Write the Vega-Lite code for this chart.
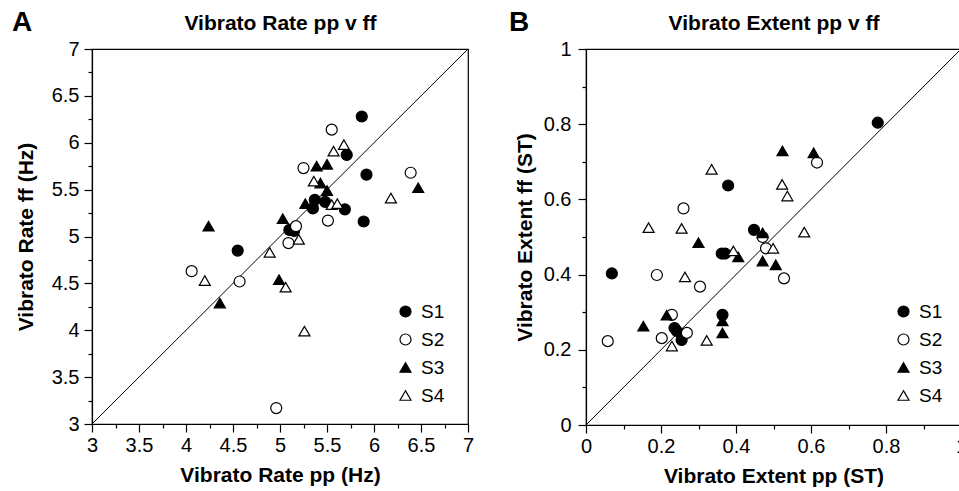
{
  "$schema": "https://vega.github.io/schema/vega-lite/v6.json",
  "padding": {"left": 11, "top": 8, "right": 0, "bottom": 0},
  "background": "white",
  "datasets": {
    "rate": [
      {"s": "S1", "pp": 5.87, "ff": 6.28}, {"s": "S1", "pp": 5.71, "ff": 5.87}, {"s": "S1", "pp": 5.92, "ff": 5.66},
      {"s": "S1", "pp": 5.37, "ff": 5.39}, {"s": "S1", "pp": 5.48, "ff": 5.37}, {"s": "S1", "pp": 5.35, "ff": 5.30},
      {"s": "S1", "pp": 5.69, "ff": 5.29}, {"s": "S1", "pp": 5.89, "ff": 5.16}, {"s": "S1", "pp": 5.10, "ff": 5.07},
      {"s": "S1", "pp": 5.15, "ff": 5.06}, {"s": "S1", "pp": 4.55, "ff": 4.85},
      {"s": "S2", "pp": 5.55, "ff": 6.14}, {"s": "S2", "pp": 5.25, "ff": 5.73}, {"s": "S2", "pp": 6.39, "ff": 5.68},
      {"s": "S2", "pp": 5.51, "ff": 5.17}, {"s": "S2", "pp": 5.17, "ff": 5.11}, {"s": "S2", "pp": 5.09, "ff": 4.93},
      {"s": "S2", "pp": 4.06, "ff": 4.63}, {"s": "S2", "pp": 4.57, "ff": 4.52}, {"s": "S2", "pp": 4.96, "ff": 3.17},
      {"s": "S3", "pp": 5.39, "ff": 5.75}, {"s": "S3", "pp": 5.50, "ff": 5.77}, {"s": "S3", "pp": 5.43, "ff": 5.57},
      {"s": "S3", "pp": 6.47, "ff": 5.52}, {"s": "S3", "pp": 5.50, "ff": 5.49}, {"s": "S3", "pp": 5.27, "ff": 5.35},
      {"s": "S3", "pp": 5.03, "ff": 5.19}, {"s": "S3", "pp": 4.24, "ff": 5.11}, {"s": "S3", "pp": 4.99, "ff": 4.54},
      {"s": "S3", "pp": 4.36, "ff": 4.29},
      {"s": "S4", "pp": 5.68, "ff": 5.98}, {"s": "S4", "pp": 5.57, "ff": 5.91}, {"s": "S4", "pp": 5.36, "ff": 5.59},
      {"s": "S4", "pp": 6.18, "ff": 5.41}, {"s": "S4", "pp": 5.55, "ff": 5.34}, {"s": "S4", "pp": 5.61, "ff": 5.35},
      {"s": "S4", "pp": 5.20, "ff": 4.97}, {"s": "S4", "pp": 4.89, "ff": 4.83}, {"s": "S4", "pp": 4.20, "ff": 4.53},
      {"s": "S4", "pp": 5.06, "ff": 4.46}, {"s": "S4", "pp": 5.26, "ff": 3.99}
    ],
    "extent": [
      {"s": "S1", "pp": 0.778, "ff": 0.804}, {"s": "S1", "pp": 0.379, "ff": 0.637}, {"s": "S1", "pp": 0.448, "ff": 0.519},
      {"s": "S1", "pp": 0.362, "ff": 0.456}, {"s": "S1", "pp": 0.371, "ff": 0.456}, {"s": "S1", "pp": 0.069, "ff": 0.403},
      {"s": "S1", "pp": 0.236, "ff": 0.258}, {"s": "S1", "pp": 0.242, "ff": 0.250}, {"s": "S1", "pp": 0.255, "ff": 0.226},
      {"s": "S1", "pp": 0.364, "ff": 0.293},
      {"s": "S2", "pp": 0.616, "ff": 0.698}, {"s": "S2", "pp": 0.260, "ff": 0.576}, {"s": "S2", "pp": 0.471, "ff": 0.500},
      {"s": "S2", "pp": 0.480, "ff": 0.470}, {"s": "S2", "pp": 0.189, "ff": 0.399}, {"s": "S2", "pp": 0.304, "ff": 0.368},
      {"s": "S2", "pp": 0.528, "ff": 0.390}, {"s": "S2", "pp": 0.229, "ff": 0.293}, {"s": "S2", "pp": 0.269, "ff": 0.245},
      {"s": "S2", "pp": 0.202, "ff": 0.231}, {"s": "S2", "pp": 0.058, "ff": 0.223},
      {"s": "S3", "pp": 0.524, "ff": 0.729}, {"s": "S3", "pp": 0.607, "ff": 0.724}, {"s": "S3", "pp": 0.471, "ff": 0.511},
      {"s": "S3", "pp": 0.300, "ff": 0.485}, {"s": "S3", "pp": 0.406, "ff": 0.447}, {"s": "S3", "pp": 0.471, "ff": 0.436},
      {"s": "S3", "pp": 0.506, "ff": 0.426}, {"s": "S3", "pp": 0.153, "ff": 0.263}, {"s": "S3", "pp": 0.215, "ff": 0.292},
      {"s": "S3", "pp": 0.364, "ff": 0.277}, {"s": "S3", "pp": 0.364, "ff": 0.245},
      {"s": "S4", "pp": 0.335, "ff": 0.680}, {"s": "S4", "pp": 0.523, "ff": 0.640}, {"s": "S4", "pp": 0.537, "ff": 0.609},
      {"s": "S4", "pp": 0.167, "ff": 0.525}, {"s": "S4", "pp": 0.255, "ff": 0.523}, {"s": "S4", "pp": 0.582, "ff": 0.513},
      {"s": "S4", "pp": 0.499, "ff": 0.470}, {"s": "S4", "pp": 0.393, "ff": 0.463}, {"s": "S4", "pp": 0.264, "ff": 0.394},
      {"s": "S4", "pp": 0.229, "ff": 0.210}, {"s": "S4", "pp": 0.322, "ff": 0.225}
    ],
    "diagA": [{"v": 3}, {"v": 7}],
    "diagB": [{"v": 0}, {"v": 1}]
  },
  "resolve": {
    "scale": {"shape": "independent", "fill": "independent", "stroke": "independent"},
    "legend": {"shape": "independent", "fill": "independent", "stroke": "independent"}
  },
  "hconcat": [
    {
      "title": {"text": "A", "orient": "left", "angle": 0, "anchor": "end", "align": "left", "baseline": "top", "frame": "bounds", "offset": -17, "dy": -3},
      "width": 376,
      "height": 375,
      "resolve": {"axis": {"x": "independent", "y": "independent"}},
      "layer": [
        {
          "data": {"name": "diagA"},
          "mark": {"type": "line", "color": "black", "strokeWidth": 1},
          "encoding": {
            "x": {"field": "v", "type": "quantitative", "scale": {"domain": [3, 7], "nice": false, "zero": false},
                  "axis": {"orient": "top", "title": "Vibrato Rate pp v ff", "labels": false, "ticks": false, "domain": true, "titlePadding": 16}},
            "y": {"field": "v", "type": "quantitative", "scale": {"domain": [3, 7], "nice": false, "zero": false}, "axis": null}
          }
        },
        {
          "data": {"name": "rate"},
          "mark": {"type": "point", "filled": true, "stroke": "black", "strokeWidth": 1.2, "opacity": 1, "size": 121},
          "encoding": {
            "x": {"field": "pp", "type": "quantitative", "scale": {"domain": [3, 7], "nice": false, "zero": false},
                  "axis": {"title": "Vibrato Rate pp (Hz)", "titlePadding": 9, "labelPadding": 3,
                           "values": [3, 3.25, 3.5, 3.75, 4, 4.25, 4.5, 4.75, 5, 5.25, 5.5, 5.75, 6, 6.25, 6.5, 6.75, 7],
                           "labelExpr": "datum.value % 0.5 === 0 ? '' + datum.value : ''",
                           "tickSize": {"condition": {"test": "datum.value % 0.5 === 0", "value": 8}, "value": 4}}},
            "y": {"field": "ff", "type": "quantitative", "scale": {"domain": [3, 7], "nice": false, "zero": false},
                  "axis": {"title": "Vibrato Rate ff (Hz)", "titlePadding": 15,
                           "values": [3, 3.25, 3.5, 3.75, 4, 4.25, 4.5, 4.75, 5, 5.25, 5.5, 5.75, 6, 6.25, 6.5, 6.75, 7],
                           "labelExpr": "datum.value % 0.5 === 0 ? '' + datum.value : ''",
                           "tickSize": {"condition": {"test": "datum.value % 0.5 === 0", "value": 8}, "value": 4}}},
            "shape": {"field": "s", "type": "nominal", "scale": {"domain": ["S1", "S2", "S3", "S4"], "range": ["circle", "circle", "triangle-up", "triangle-up"]},
                      "legend": {"title": null, "orient": "none", "legendX": 304, "legendY": 253}},
            "fill": {"field": "s", "type": "nominal", "scale": {"domain": ["S1", "S2", "S3", "S4"], "range": ["black", "white", "black", "white"]},
                     "legend": {"title": null, "orient": "none", "legendX": 304, "legendY": 253}},
            "stroke": {"field": "s", "type": "nominal", "scale": {"domain": ["S1", "S2", "S3", "S4"], "range": ["black", "black", "black", "black"]},
                       "legend": {"title": null, "orient": "none", "legendX": 304, "legendY": 253}}
          }
        }
      ]
    },
    {
      "title": {"text": "B", "orient": "left", "angle": 0, "anchor": "end", "align": "left", "baseline": "top", "frame": "bounds", "offset": -15, "dy": -3},
      "width": 375,
      "height": 376,
      "resolve": {"axis": {"x": "independent", "y": "independent"}},
      "layer": [
        {
          "data": {"name": "diagB"},
          "mark": {"type": "line", "color": "black", "strokeWidth": 1},
          "encoding": {
            "x": {"field": "v", "type": "quantitative", "scale": {"domain": [0, 1], "nice": false},
                  "axis": {"orient": "top", "title": "Vibrato Extent pp v ff", "labels": false, "ticks": false, "domain": true, "titlePadding": 16}},
            "y": {"field": "v", "type": "quantitative", "scale": {"domain": [0, 1], "nice": false}, "axis": null}
          }
        },
        {
          "data": {"name": "extent"},
          "mark": {"type": "point", "filled": true, "stroke": "black", "strokeWidth": 1.2, "opacity": 1, "size": 121},
          "encoding": {
            "x": {"field": "pp", "type": "quantitative", "scale": {"domain": [0, 1], "nice": false},
                  "axis": {"title": "Vibrato Extent pp (ST)", "titlePadding": 9, "labelPadding": 3,
                           "values": [0, 0.1, 0.2, 0.3, 0.4, 0.5, 0.6, 0.7, 0.8, 0.9, 1],
                           "labelExpr": "round(datum.value * 10) % 2 === 0 ? '' + datum.value : ''",
                           "tickSize": {"condition": {"test": "round(datum.value * 10) % 2 === 0", "value": 8}, "value": 4}}},
            "y": {"field": "ff", "type": "quantitative", "scale": {"domain": [0, 1], "nice": false},
                  "axis": {"title": "Vibrato Extent ff (ST)", "titlePadding": 8, "labelPadding": 7,
                           "values": [0, 0.1, 0.2, 0.3, 0.4, 0.5, 0.6, 0.7, 0.8, 0.9, 1],
                           "labelExpr": "round(datum.value * 10) % 2 === 0 ? '' + datum.value : ''",
                           "tickSize": {"condition": {"test": "round(datum.value * 10) % 2 === 0", "value": 8}, "value": 4}}},
            "shape": {"field": "s", "type": "nominal", "scale": {"domain": ["S1", "S2", "S3", "S4"], "range": ["circle", "circle", "triangle-up", "triangle-up"]},
                      "legend": {"title": null, "orient": "none", "legendX": 308, "legendY": 253}},
            "fill": {"field": "s", "type": "nominal", "scale": {"domain": ["S1", "S2", "S3", "S4"], "range": ["black", "white", "black", "white"]},
                     "legend": {"title": null, "orient": "none", "legendX": 308, "legendY": 253}},
            "stroke": {"field": "s", "type": "nominal", "scale": {"domain": ["S1", "S2", "S3", "S4"], "range": ["black", "black", "black", "black"]},
                       "legend": {"title": null, "orient": "none", "legendX": 308, "legendY": 253}}
          }
        }
      ]
    }
  ],
  "spacing": 33,
  "config": {
    "font": "Liberation Sans",
    "view": {"stroke": "black", "strokeWidth": 1.2},
    "title": {"fontSize": 28, "fontWeight": "bold", "color": "black", "font": "Liberation Sans"},
    "axis": {
      "grid": false,
      "domainColor": "black", "domainWidth": 1.2,
      "tickColor": "black", "tickWidth": 1.2,
      "labelColor": "black", "labelFontSize": 20, "labelFont": "Liberation Sans", "labelPadding": 5,
      "labelFlush": false, "labelOverlap": false,
      "titleColor": "black", "titleFontSize": 21, "titleFontWeight": "bold", "titleFont": "Liberation Sans"
    },
    "legend": {
      "padding": 0, "labelFontSize": 19, "labelFont": "Liberation Sans", "labelColor": "black", "labelOffset": 6,
      "rowPadding": 8, "symbolSize": 121, "symbolStrokeColor": "black", "symbolStrokeWidth": 1.2
    }
  }
}
